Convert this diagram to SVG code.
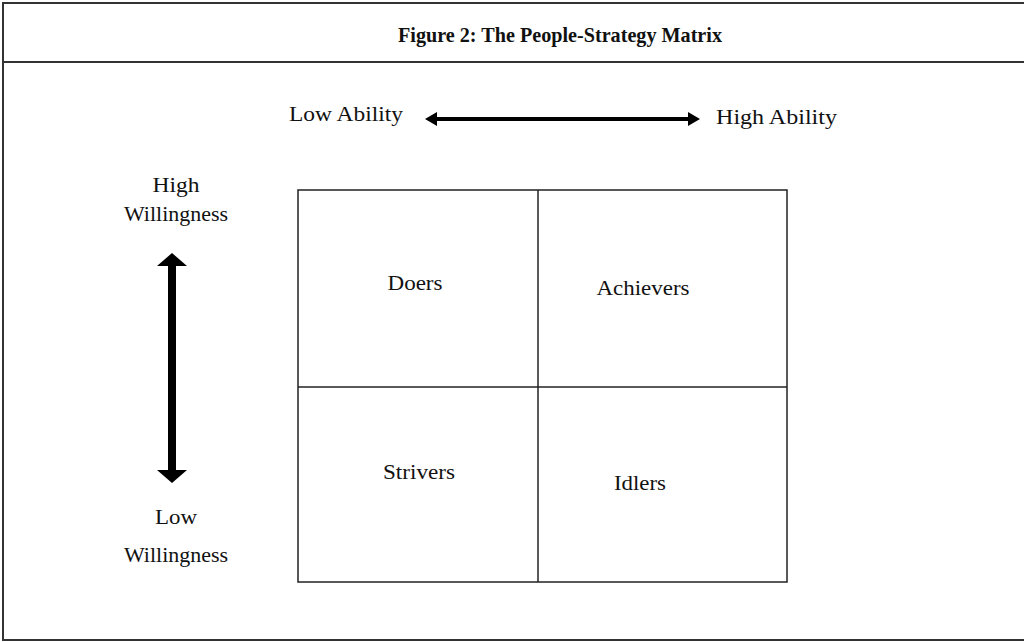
<svg xmlns="http://www.w3.org/2000/svg" width="1024" height="642" viewBox="0 0 1024 642">
<style>
text{font-family:"Liberation Serif","Times New Roman",serif;fill:#111;}
.t{font-size:21px;font-weight:bold;text-anchor:middle;}
.l{font-size:22px;}
.c{font-size:22px;text-anchor:middle;}
.frame{fill:none;stroke:#333;stroke-width:2;}
.cell{fill:none;stroke:#222;stroke-width:1.5;}
</style>
<rect width="1024" height="642" fill="#fff"/>
<g id="frame">
<rect class="frame" x="3" y="3" width="1024" height="637"/>
<line class="frame" x1="3" y1="62" x2="1024" y2="62"/>
<text class="t" x="560" y="42" textLength="324" lengthAdjust="spacingAndGlyphs">Figure 2: The People-Strategy Matrix</text>
</g>
<g id="axis-labels">
<text class="l" x="289" y="121" textLength="114" lengthAdjust="spacingAndGlyphs">Low Ability</text>
<text class="l" x="716" y="124" textLength="121" lengthAdjust="spacingAndGlyphs">High Ability</text>
<text class="c" x="176" y="192" textLength="47" lengthAdjust="spacingAndGlyphs">High</text>
<text class="c" x="176" y="221" textLength="104" lengthAdjust="spacingAndGlyphs">Willingness</text>
<text class="c" x="176" y="524" textLength="42" lengthAdjust="spacingAndGlyphs">Low</text>
<text class="c" x="176" y="562" textLength="104" lengthAdjust="spacingAndGlyphs">Willingness</text>
</g>
<g id="connectors">
<polygon fill="#000" points="425,119 437,112 437,117 688,117 688,112 700,119 688,126 688,121 437,121 437,126"/>
<polygon fill="#000" points="172,253 187,266 176,266 176,470 187,470 172,483 157,470 168,470 168,266 157,266"/>
</g>
<g id="matrix">
<rect class="cell" x="298" y="190" width="489" height="392"/>
<line class="cell" x1="538" y1="190" x2="538" y2="582"/>
<line class="cell" x1="298" y1="387" x2="787" y2="387"/>
</g>
<g id="doers"><text class="c" x="415" y="290" textLength="55" lengthAdjust="spacingAndGlyphs">Doers</text></g>
<g id="achievers"><text class="c" x="643" y="295" textLength="93" lengthAdjust="spacingAndGlyphs">Achievers</text></g>
<g id="strivers"><text class="c" x="419" y="479" textLength="72" lengthAdjust="spacingAndGlyphs">Strivers</text></g>
<g id="idlers"><text class="c" x="640" y="490" textLength="52" lengthAdjust="spacingAndGlyphs">Idlers</text></g>
</svg>
